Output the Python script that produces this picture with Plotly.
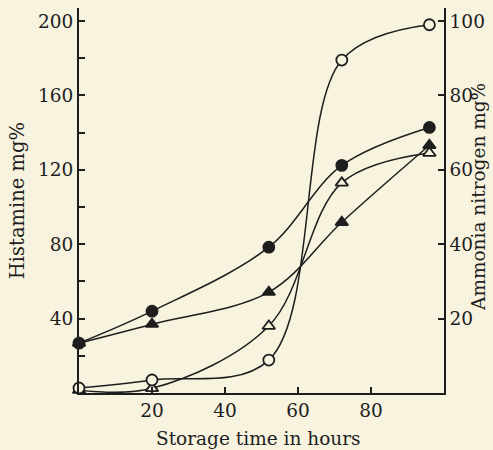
import plotly.graph_objects as go

hours = [0, 20, 52, 72, 96]
# Histamine (mg%), left axis
histamine_30 = [2.7, 7, 17.7, 179, 198]      # open circles
histamine_20 = [1.5, 2.5, 36, 113, 129]      # open triangles
# Ammonia nitrogen (mg%), right axis
ammonia_30 = [13.4, 22, 39.2, 61.2, 71.4]     # filled circles
ammonia_20 = [13.4, 18.5, 27.1, 45.9, 66.6]   # filled triangles

left_ticks = [40, 80, 120, 160, 200]
right_ticks = [20, 40, 60, 80, 100]
x_ticks = [20, 40, 60, 80]

BG = "#f7f3df"
INK = "#1e1e1e"
FONT = "DejaVu Serif"

fig = go.Figure()

def add(y, symbol, filled, axis):
    fig.add_trace(go.Scatter(
        x=hours, y=y, yaxis=axis, mode="lines+markers",
        line=dict(color=INK, width=1.5, shape="spline", smoothing=1.0),
        marker=dict(symbol=symbol, size=11,
                    color=INK if filled else BG,
                    line=dict(color=INK, width=1.8)),
        showlegend=False, cliponaxis=False))

add(histamine_20, "triangle-up", False, "y")
add(histamine_30, "circle", False, "y")
add(ammonia_20, "triangle-up", True, "y2")
add(ammonia_30, "circle", True, "y2")

axis_common = dict(showgrid=False, zeroline=False, showline=True, linecolor=INK,
                   linewidth=1.8, ticks="inside", ticklen=6, tickcolor=INK,
                   tickwidth=1.5, tickfont=dict(family=FONT, size=18.5, color=INK))

left_all = [20, 40, 60, 80, 100, 120, 140, 160, 180, 200]

fig.update_layout(
    width=493, height=450,
    margin=dict(l=79, r=46, t=8, b=57),
    paper_bgcolor=BG, plot_bgcolor=BG,
    xaxis=dict(range=[0, 100], tickvals=x_ticks, **axis_common),
    yaxis=dict(range=[0, 207], tickvals=left_all,
               ticktext=[str(v) if v in left_ticks else "" for v in left_all],
               **axis_common),
    yaxis2=dict(range=[0, 103.5], tickvals=right_ticks, overlaying="y", side="right",
                **axis_common),
    annotations=[
        dict(text="Histamine mg%", xref="paper", yref="paper", x=-0.168, y=0.50,
             textangle=-90, showarrow=False, xanchor="center", yanchor="middle",
             font=dict(family=FONT, size=19.5, color=INK)),
        dict(text="Ammonia nitrogen mg%", xref="paper", yref="paper", x=1.094, y=0.51,
             textangle=-90, showarrow=False, xanchor="center", yanchor="middle",
             font=dict(family=FONT, size=18.5, color=INK)),
        dict(text="Storage time in hours", xref="paper", yref="paper", x=0.492, y=-0.117,
             showarrow=False, xanchor="center", yanchor="middle",
             font=dict(family=FONT, size=18.5, color=INK)),
    ],
)

fig.write_html("out.html", config={"displayModeBar": False},
               post_script="document.body.style.margin='0';document.body.style.background='%s';" % BG)
